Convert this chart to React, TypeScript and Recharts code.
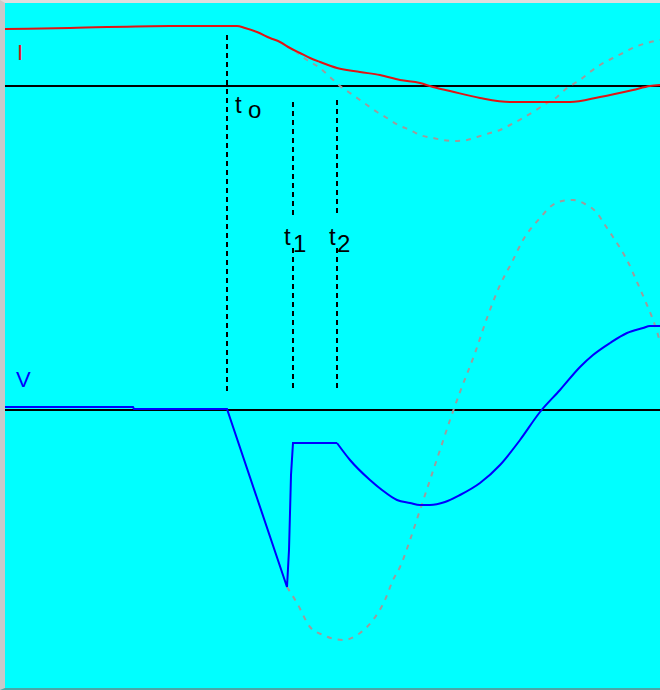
import { ComposedChart, Line, XAxis, YAxis, ReferenceLine, ReferenceDot } from 'recharts';

document.body.style.margin = '0';

// time axis in screen units (x), values relative to each trace's zero line
const currentTrace = [
  { x: 5, v: 57 }, { x: 70, v: 58 }, { x: 170, v: 60 }, { x: 237, v: 60 },
  { x: 245, v: 58 }, { x: 257, v: 54 }, { x: 270, v: 48 }, { x: 280, v: 44 },
  { x: 290, v: 38 }, { x: 300, v: 33 }, { x: 310, v: 28 }, { x: 320, v: 24 },
  { x: 337, v: 18 }, { x: 360, v: 14 }, { x: 380, v: 11 }, { x: 400, v: 6 },
  { x: 420, v: 3 }, { x: 433, v: -1 }, { x: 450, v: -5 }, { x: 480, v: -12 },
  { x: 510, v: -16 }, { x: 540, v: -16 }, { x: 570, v: -16 }, { x: 600, v: -11 },
  { x: 633, v: -4 }, { x: 650, v: 0 }, { x: 660, v: 1 },
];

const currentGhost = [
  { x: 295, v: 35 }, { x: 307, v: 26 }, { x: 320, v: 18 }, { x: 330, v: 9 },
  { x: 340, v: 0 }, { x: 353, v: -9 }, { x: 367, v: -19 }, { x: 377, v: -26 },
  { x: 387, v: -32 }, { x: 398, v: -39 }, { x: 410, v: -44 }, { x: 420, v: -49 },
  { x: 433, v: -52 }, { x: 443, v: -54 }, { x: 455, v: -55 }, { x: 467, v: -54 },
  { x: 477, v: -51 }, { x: 490, v: -47 }, { x: 500, v: -44 }, { x: 510, v: -39 },
  { x: 523, v: -32 }, { x: 533, v: -26 }, { x: 547, v: -17 }, { x: 557, v: -11 },
  { x: 567, v: -2 }, { x: 580, v: 6 }, { x: 590, v: 14 }, { x: 600, v: 21 },
  { x: 613, v: 28 }, { x: 623, v: 33 }, { x: 635, v: 39 }, { x: 647, v: 43 },
  { x: 660, v: 46 },
];

const voltageTrace = [
  { x: 5, v: 3 }, { x: 133, v: 3 }, { x: 134, v: 1 }, { x: 227, v: 1 },
  { x: 257, v: -88 }, { x: 287, v: -177 }, { x: 289, v: -140 }, { x: 290, v: -103 },
  { x: 291, v: -65 }, { x: 293, v: -33 }, { x: 337, v: -33 },
];

const voltageRecovery = [
  { x: 337, v: -33 }, { x: 350, v: -50 }, { x: 370, v: -70 }, { x: 382, v: -80 },
  { x: 397, v: -90 }, { x: 410, v: -93 }, { x: 420, v: -95 }, { x: 430, v: -95 },
  { x: 445, v: -92 }, { x: 460, v: -85 }, { x: 480, v: -73 }, { x: 500, v: -55 },
  { x: 520, v: -30 }, { x: 540, v: -2 }, { x: 560, v: 20 }, { x: 580, v: 43 },
  { x: 593, v: 55 }, { x: 610, v: 67 }, { x: 627, v: 77 }, { x: 643, v: 82 },
  { x: 650, v: 84 }, { x: 660, v: 84 },
];

const voltageGhost = [
  { x: 287, v: -177 }, { x: 297, v: -193 }, { x: 310, v: -217 }, { x: 323, v: -225 },
  { x: 343, v: -230 }, { x: 360, v: -223 }, { x: 373, v: -210 }, { x: 385, v: -190 },
  { x: 393, v: -170 }, { x: 400, v: -157 }, { x: 410, v: -130 }, { x: 420, v: -100 },
  { x: 430, v: -70 }, { x: 440, v: -40 }, { x: 450, v: -10 }, { x: 460, v: 18 },
  { x: 475, v: 57 }, { x: 487, v: 92 }, { x: 500, v: 125 }, { x: 512, v: 148 },
  { x: 523, v: 170 }, { x: 540, v: 192 }, { x: 550, v: 203 }, { x: 562, v: 209 },
  { x: 573, v: 210 }, { x: 585, v: 206 }, { x: 597, v: 197 }, { x: 605, v: 185 },
  { x: 613, v: 173 }, { x: 620, v: 162 }, { x: 627, v: 150 }, { x: 637, v: 128 },
  { x: 647, v: 105 }, { x: 652, v: 93 }, { x: 658, v: 75 }, { x: 660, v: 68 },
];

// marker times and their dashed segments (on the current axis)
const markerSegments = [
  { x: 227, from: 51, to: -306 },
  { x: 293, from: -16, to: -130 },
  { x: 293, from: -162, to: -304 },
  { x: 337, from: -14, to: -129 },
  { x: 337, from: -162, to: -304 },
];

const markerLabels = [
  { x: 235, y: -27, main: 't', sub: 'o', subDx: 13, subDy: 5 },
  { x: 284, y: -159, main: 't', sub: '1', subDx: 9, subDy: 7 },
  { x: 329, y: -159, main: 't', sub: '2', subDx: 8, subDy: 7 },
];

const FONT = '"Liberation Sans", Arial, sans-serif';

const TraceName = ({ cx, cy, text, color }: any) => (
  <text x={cx} y={cy} fill={color} fontSize={22} fontFamily={FONT}>{text}</text>
);

const MarkerName = ({ cx, cy, main, sub, subDx, subDy }: any) => (
  <text x={cx} y={cy} fill="#000" fontSize={24} fontFamily={FONT}>
    {main}
    <tspan x={cx + subDx} y={cy + subDy}>{sub}</tspan>
  </text>
);

export default function App() {
  return (
    <div
      style={{
        width: 655,
        height: 685,
        background: '#00ffff',
        borderLeft: '5px solid #c9c9c9',
        borderTop: '3px solid #dedede',
        borderBottom: '2px solid #4aa8a8',
      }}
    >
      <ComposedChart width={655} height={685} margin={{ top: 0, right: 0, bottom: 0, left: 0 }}>
        <XAxis dataKey="x" type="number" domain={[5, 660]} hide allowDataOverflow />
        <YAxis yAxisId="i" type="number" domain={[-602, 83]} hide allowDataOverflow />
        <YAxis yAxisId="v" type="number" domain={[-278, 407]} hide allowDataOverflow />

        <ReferenceLine yAxisId="i" y={0} stroke="#000" strokeWidth={2} />
        <ReferenceLine yAxisId="v" y={0} stroke="#000" strokeWidth={2} />

        {markerSegments.map((s, i) => (
          <ReferenceLine
            key={`seg-${i}`}
            yAxisId="i"
            segment={[{ x: s.x, y: s.from }, { x: s.x, y: s.to }]}
            stroke="#000"
            strokeWidth={2}
            strokeDasharray="5 4"
          />
        ))}

        <Line yAxisId="i" data={currentGhost} dataKey="v" type="monotone" stroke="#9c9c9c" strokeWidth={2}
          strokeDasharray="5 6" dot={false} activeDot={false} isAnimationActive={false} />
        <Line yAxisId="v" data={voltageGhost} dataKey="v" type="monotone" stroke="#9c9c9c" strokeWidth={2}
          strokeDasharray="5 6" dot={false} activeDot={false} isAnimationActive={false} />
        <Line yAxisId="i" data={currentTrace} dataKey="v" type="monotone" stroke="#e01414" strokeWidth={2}
          dot={false} activeDot={false} isAnimationActive={false} />
        <Line yAxisId="v" data={voltageTrace} dataKey="v" type="linear" stroke="#0000ff" strokeWidth={2}
          dot={false} activeDot={false} isAnimationActive={false} />
        <Line yAxisId="v" data={voltageRecovery} dataKey="v" type="monotone" stroke="#0000ff" strokeWidth={2}
          dot={false} activeDot={false} isAnimationActive={false} />

        <ReferenceDot yAxisId="i" x={17} y={26} r={0}
          shape={(p: any) => <TraceName {...p} text="I" color="#e01414" />} />
        <ReferenceDot yAxisId="v" x={16} y={23} r={0}
          shape={(p: any) => <TraceName {...p} text="V" color="#0000ff" />} />
        {markerLabels.map((m, i) => (
          <ReferenceDot key={`lab-${i}`} yAxisId="i" x={m.x} y={m.y} r={0}
            shape={(p: any) => <MarkerName {...p} {...m} />} />
        ))}
      </ComposedChart>
    </div>
  );
}
